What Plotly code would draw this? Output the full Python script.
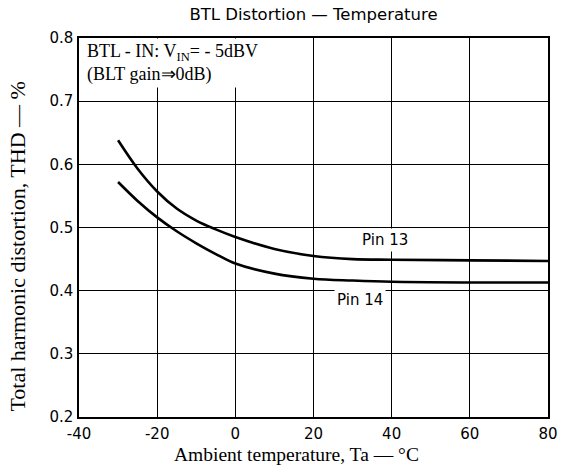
import plotly.graph_objects as go

# Data
temperature = [-30, -25, -20, -15, -10, -5, 0, 10, 20, 30, 40, 60, 80]
thd_pin13 = [0.638, 0.593, 0.557, 0.530, 0.511, 0.497, 0.485, 0.466, 0.455, 0.450, 0.449, 0.448, 0.447]
thd_pin14 = [0.572, 0.542, 0.516, 0.494, 0.475, 0.458, 0.443, 0.427, 0.419, 0.416, 0.414, 0.413, 0.413]

x_ticks = [-40, -20, 0, 20, 40, 60, 80]
y_ticks = [0.2, 0.3, 0.4, 0.5, 0.6, 0.7, 0.8]

SANS = "DejaVu Sans"
SERIF = "Liberation Serif"

fig = go.Figure()
for name, vals in [("Pin 13", thd_pin13), ("Pin 14", thd_pin14)]:
    fig.add_trace(go.Scatter(
        x=temperature, y=vals, mode="lines", name=name,
        line=dict(color="black", width=2.6, shape="spline", smoothing=1.0),
        showlegend=False, hoverinfo="skip",
    ))

fig.update_layout(
    width=561, height=473,
    margin=dict(l=79, r=13, t=38, b=56, autoexpand=False),
    paper_bgcolor="white", plot_bgcolor="white",
    title=dict(text="BTL Distortion — Temperature", x=0.5, xref="paper",
               y=1 - 14 / 473, yref="container", xanchor="center", yanchor="middle",
               automargin=False,
               font=dict(family=SANS, size=16.5, color="black")),
    xaxis=dict(range=[-40, 80], tickvals=x_ticks, ticktext=[str(v) for v in x_ticks],
               showgrid=True, gridcolor="black", gridwidth=1,
               showline=True, linecolor="black", linewidth=1.6, mirror=True,
               ticks="outside", ticklen=2, tickcolor="rgba(0,0,0,0)",
               tickfont=dict(family=SANS, size=15, color="black"),
               zeroline=False, fixedrange=True, automargin=False),
    yaxis=dict(range=[0.2, 0.8], tickvals=y_ticks, ticktext=[f"{v:.1f}" for v in y_ticks],
               showgrid=True, gridcolor="black", gridwidth=1,
               showline=True, linecolor="black", linewidth=1.6, mirror=True,
               ticks="outside", ticklen=1, tickcolor="rgba(0,0,0,0)",
               tickfont=dict(family=SANS, size=15, color="black"),
               zeroline=False, fixedrange=True, automargin=False),
)

# condition text in a white box that hides the grid behind it
fig.add_annotation(x=-39.6, y=0.7995, xref="x", yref="y", xanchor="left", yanchor="top",
                   text="BTL - IN: V<sub>IN</sub>= - 5dBV<br>(BLT gain⇒0dB)", showarrow=False,
                   align="left", valign="middle", width=178, height=48, bgcolor="white",
                   borderpad=0, xshift=5,
                   font=dict(family=SERIF, size=18, color="black"))

fig.add_annotation(x=38.3, y=0.481, xref="x", yref="y", text="Pin 13", showarrow=False,
                   bgcolor="white", borderpad=2,
                   font=dict(family=SANS, size=15, color="black"))
fig.add_annotation(x=32.0, y=0.385, xref="x", yref="y", text="Pin 14", showarrow=False,
                   bgcolor="white", borderpad=2,
                   font=dict(family=SANS, size=15, color="black"))

# axis titles
fig.add_annotation(x=0.4627, y=-0.100, xref="paper", yref="paper", xanchor="center", yanchor="middle",
                   text="Ambient temperature, Ta — °C", showarrow=False,
                   font=dict(family=SERIF, size=19.5, color="black"))
fig.add_annotation(x=-0.132, y=0.45, xref="paper", yref="paper", xanchor="center", yanchor="middle",
                   text="Total harmonic distortion, THD — %", textangle=-90, showarrow=False,
                   font=dict(family=SERIF, size=22, color="black"))

fig.write_html(
    "out.html",
    config={"displayModeBar": False, "staticPlot": True},
    post_script=("document.documentElement.style.margin='0';"
                 "document.documentElement.style.overflow='hidden';"
                 "document.body.style.margin='0';document.body.style.padding='0';"
                 "document.body.style.overflow='hidden';"),
)
